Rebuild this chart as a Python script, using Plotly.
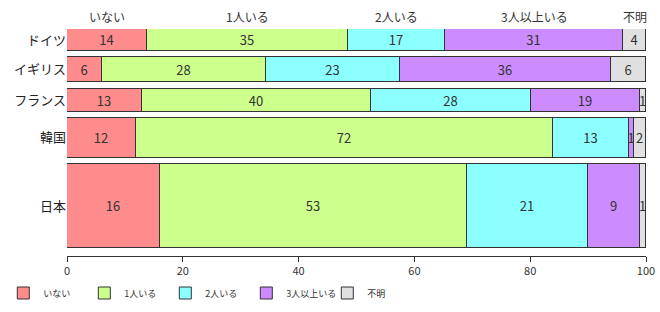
import plotly.graph_objects as go

countries = ["ドイツ", "イギリス", "フランス", "韓国", "日本"]
categories = ["いない", "1人いる", "2人いる", "3人以上いる", "不明"]
none_vals = [14, 6, 13, 12, 16]
one_vals = [35, 28, 40, 72, 53]
two_vals = [17, 23, 28, 13, 21]
three_plus_vals = [31, 36, 19, 1, 9]
unknown_vals = [4, 6, 1, 2, 1]
# relative bar thickness (sample weight) per country
sample_weight = [22, 25, 23, 40, 84]

series = [none_vals, one_vals, two_vals, three_plus_vals, unknown_vals]
colors = ["#FF8C8C", "#CCFF8C", "#8CFFFF", "#CC8CFF", "#E0E0E0"]

row_sums = [sum(s[i] for s in series) for i in range(len(countries))]

gap = 6.25
centers = []
pos = 0.0
for w in sample_weight:
    centers.append(pos + w / 2)
    pos += w + gap
y_bottom = pos - gap + 8

FONT = "Noto Sans CJK JP"

fig = go.Figure()
for name, vals, col in zip(categories, series, colors):
    xs = [v / row_sums[i] * 100 for i, v in enumerate(vals)]
    fig.add_trace(go.Bar(
        name=name,
        y=centers,
        x=xs,
        width=sample_weight,
        orientation="h",
        marker=dict(color=col, line=dict(color="#333333", width=1)),
        text=[str(v) for v in vals],
        textposition="inside",
        insidetextanchor="middle",
        textangle=0,
        constraintext="none",
        textfont=dict(size=13, color="#333333", family=FONT),
        hoverinfo="skip",
    ))

# Top category labels centred over the first row's segments
annotations = []
cum = 0.0
for name, vals in zip(categories, series):
    w = vals[0] / row_sums[0] * 100
    annotations.append(dict(
        x=cum + w / 2, y=1, xref="x", yref="paper",
        text=name, showarrow=False, yanchor="bottom", yshift=2,
        font=dict(size=12, color="#333333", family=FONT),
    ))
    cum += w

fig.update_layout(
    width=660, height=312,
    margin=dict(l=67, r=14, t=29, b=56, autoexpand=False),
    barmode="stack",
    bargap=0,
    plot_bgcolor="white",
    paper_bgcolor="white",
    font=dict(family=FONT, color="#333333"),
    annotations=annotations,
    showlegend=True,
    legend=dict(
        orientation="h", x=-0.11, xanchor="left", y=-0.163, yanchor="middle",
        font=dict(size=9, color="#333333", family=FONT),
        itemwidth=30, traceorder="normal",
        entrywidth=36, entrywidthmode="pixels",
    ),
    xaxis=dict(
        range=[0, 100], tickvals=[0, 20, 40, 60, 80, 100],
        showgrid=False, zeroline=False, showline=True,
        linecolor="#333333", linewidth=1,
        ticks="outside", ticklen=5, tickcolor="#333333",
        tickfont=dict(size=11, color="#333333", family=FONT),
        fixedrange=True,
    ),
    yaxis=dict(
        range=[y_bottom, 0], tickvals=centers, ticktext=countries,
        showgrid=False, zeroline=False, showline=False, ticks="",
        tickfont=dict(size=13, color="#222222", family=FONT),
        fixedrange=True,
    ),
)

fig.write_html("out.html")
